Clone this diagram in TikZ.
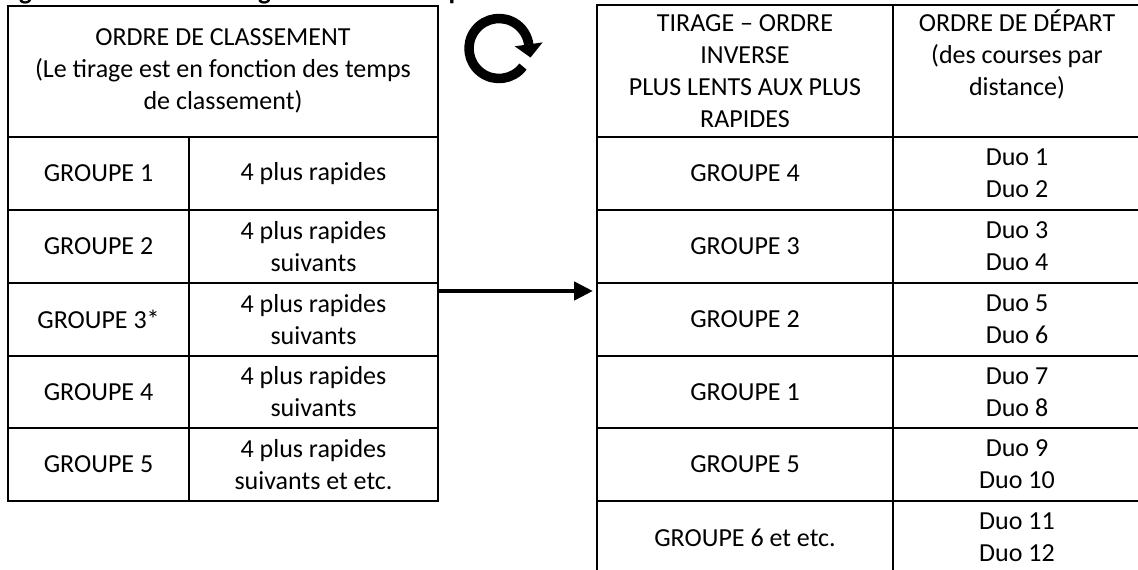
\documentclass[tikz,border=0pt]{standalone}
\usepackage{fontspec}
\setmainfont{Carlito}
\usetikzlibrary{arrows.meta}
\begin{document}
\begin{tikzpicture}[x=1pt,y=-1pt,
  cell/.style={draw, line width=2pt, inner sep=0pt, outer sep=0pt, align=center, font=\fontsize{26}{32}\selectfont},
  txt/.style={inner sep=0pt, outer sep=0pt, align=center, font=\fontsize{26}{32}\selectfont},
  conn/.style={line width=4.5pt, -{Triangle[length=19pt,width=18pt]}},
  cyc/.style={line width=9.5pt}]
\useasboundingbox (0,0) rectangle (1138,570);
\fill[white] (0,0) rectangle (1138,570);
% cut-off title (only descenders visible)
\node[anchor=base west, inner sep=0pt, font=\fontsize{27}{32}\selectfont\bfseries] (title) at (0,-1) {Figure 1 – Ordre de tirage et ordre de départ};
% left table
\node[cell, minimum width=430pt, minimum height=131.5pt] (LH) at (223,71.25) {ORDRE DE CLASSEMENT\\(Le tirage est en fonction des temps\\de classement)};
\node[cell, minimum width=181pt, minimum height=73pt] (LA1) at (98.5,173.5) {GROUPE 1};
\node[cell, minimum width=249pt, minimum height=73pt] (LB1) at (313.5,173.5) {4 plus rapides};
\node[cell, minimum width=181pt, minimum height=73pt] (LA2) at (98.5,246.5) {GROUPE 2};
\node[cell, minimum width=249pt, minimum height=73pt] (LB2) at (313.5,246.5) {4 plus rapides\\suivants};
\node[cell, minimum width=181pt, minimum height=72.5pt] (LA3) at (98.5,319.25) {GROUPE 3*};
\node[cell, minimum width=249pt, minimum height=72.5pt] (LB3) at (313.5,319.25) {4 plus rapides\\suivants};
\node[cell, minimum width=181pt, minimum height=72.5pt] (LA4) at (98.5,391.75) {GROUPE 4};
\node[cell, minimum width=249pt, minimum height=72.5pt] (LB4) at (313.5,391.75) {4 plus rapides\\suivants};
\node[cell, minimum width=181pt, minimum height=73pt] (LA5) at (98.5,464.5) {GROUPE 5};
\node[cell, minimum width=249pt, minimum height=73pt] (LB5) at (313.5,464.5) {4 plus rapides\\suivants et etc.};
% right table
\node[cell, minimum width=296pt, minimum height=132pt] (RAH) at (745,71) {};
\node[cell, minimum width=248pt, minimum height=132pt] (RBH) at (1017,71) {};
\node[txt, anchor=north] (RAHt) at (745,9.4) {\strut TIRAGE – ORDRE\\INVERSE\\PLUS LENTS AUX PLUS\\RAPIDES};
\node[txt, anchor=north] (RBHt) at (1017,9.4) {\strut ORDRE DE DÉPART\\(des courses par\\distance)};
\node[cell, minimum width=296pt, minimum height=73pt] (RA1) at (745,173.5) {GROUPE 4};
\node[cell, minimum width=248pt, minimum height=73pt] (RB1) at (1017,173.5) {Duo 1\\Duo 2};
\node[cell, minimum width=296pt, minimum height=73pt] (RA2) at (745,246.5) {GROUPE 3};
\node[cell, minimum width=248pt, minimum height=73pt] (RB2) at (1017,246.5) {Duo 3\\Duo 4};
\node[cell, minimum width=296pt, minimum height=72.5pt] (RA3) at (745,319.25) {GROUPE 2};
\node[cell, minimum width=248pt, minimum height=72.5pt] (RB3) at (1017,319.25) {Duo 5\\Duo 6};
\node[cell, minimum width=296pt, minimum height=72.5pt] (RA4) at (745,391.75) {GROUPE 1};
\node[cell, minimum width=248pt, minimum height=72.5pt] (RB4) at (1017,391.75) {Duo 7\\Duo 8};
\node[cell, minimum width=296pt, minimum height=73pt] (RA5) at (745,464.5) {GROUPE 5};
\node[cell, minimum width=248pt, minimum height=73pt] (RB5) at (1017,464.5) {Duo 9\\Duo 10};
\node[cell, minimum width=296pt, minimum height=73pt] (RA6) at (745,537.5) {GROUPE 6 et etc.};
\node[cell, minimum width=248pt, minimum height=73pt] (RB6) at (1017,537.5) {Duo 11\\Duo 12};
% connector
\draw[conn] ([yshift=-8pt]LB3.north east) -- ([xshift=-4pt,yshift=-8pt]RA3.north west);
% cycle icon
\coordinate (cc) at (499,48.5);
\draw[cyc] (cc) ++(37:30) arc[start angle=37, end angle=352.5, radius=30];
\fill (542.6,42.4) -- (514.8,46.3) -- (530.5,57.5) -- cycle;
\end{tikzpicture}
\end{document}
